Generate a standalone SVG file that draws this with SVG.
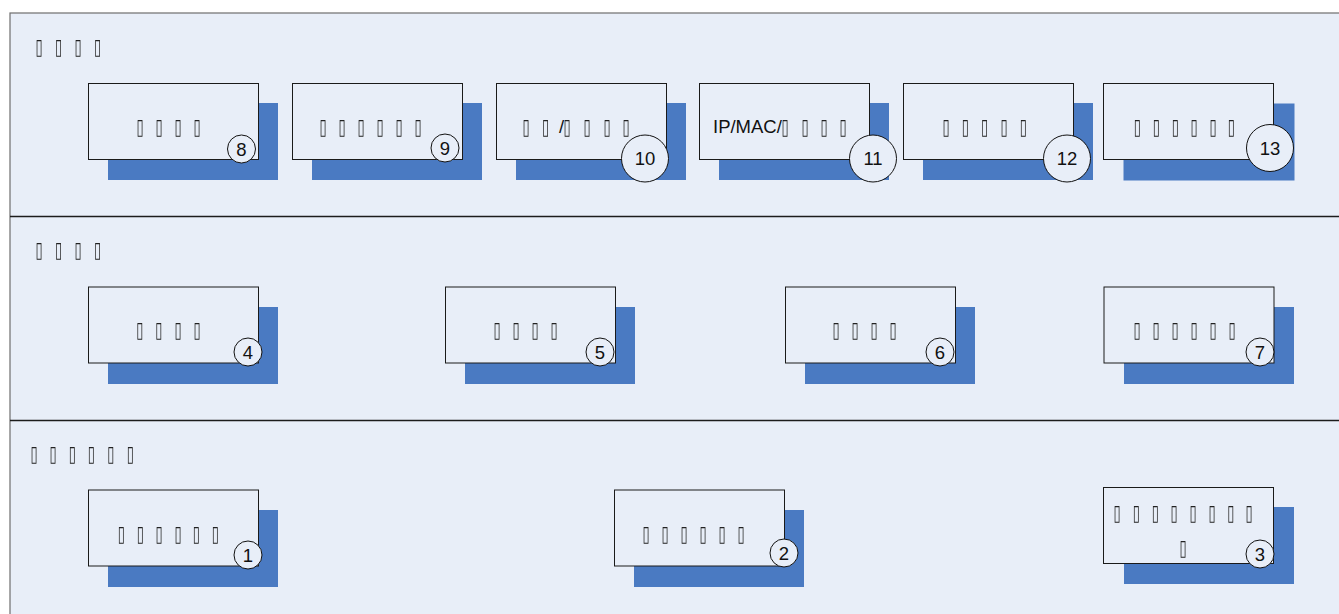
<svg xmlns="http://www.w3.org/2000/svg" width="1339" height="614" viewBox="0 0 1339 614">
  <defs>
    <!-- keep the placeholder glyphs neutral grey -->
    <filter id="mono" x="-20%" y="-30%" width="140%" height="160%">
      <feColorMatrix type="saturate" values="0"/>
    </filter>
  </defs>
  <style>
    .frame { fill: #e8eef8; stroke: #6e6e6e; stroke-width: 1.2; }
    .divider { stroke: #1c1c1c; stroke-width: 1.3; }
    .shadow { fill: #4a7ac2; }
    .box { fill: #e8eef8; stroke: #1a1a1a; stroke-width: 1; }
    .badge { fill: #e8eef8; stroke: #111; stroke-width: 1; }
    /* narrow placeholder glyphs: x positions are given in the squeezed (0.6) space */
    .tofu { font-family: "DejaVu Sans", sans-serif; font-size: 21.5px; fill: #222; filter: url(#mono); transform: scale(0.6, 1); transform-origin: 0 0; }
    .lbl { font-family: "Liberation Sans", Arial, sans-serif; font-size: 18.5px; fill: #111; }
    .num { font-family: "Liberation Sans", Arial, sans-serif; font-size: 18.5px; fill: #111; text-anchor: middle; }
  </style>

  <!-- three stacked bands -->
  <g id="bands">
    <rect class="frame" x="10" y="13" width="1340" height="612"/>
    <line class="divider" x1="10" y1="216.5" x2="1339" y2="216.5"/>
    <line class="divider" x1="10" y1="420.5" x2="1339" y2="420.5"/>
    <text id="band-top-title" class="tofu" x="59.17 91.67 124.17 156.67" y="54">▯▯▯▯</text>
    <text id="band-mid-title" class="tofu" x="59.17 91.67 124.17 156.67" y="257">▯▯▯▯</text>
    <text id="band-bottom-title" class="tofu" x="50.83 82.5 114.67 146.33 178.67 211.33" y="461">▯▯▯▯▯▯</text>
  </g>

  <!-- top band: items 8 to 13 -->
  <g id="node-8">
    <rect class="shadow" x="108" y="103" width="170" height="77"/>
    <rect class="box" x="88.5" y="83.5" width="170" height="76"/>
    <text class="tofu" x="227.5 259.17 290.83 322.5" y="134">▯▯▯▯</text>
    <circle class="badge" cx="241.5" cy="149" r="14"/>
    <text class="num" x="241.5" y="155.7">8</text>
  </g>
  <g id="node-9">
    <rect class="shadow" x="312" y="103" width="170" height="77"/>
    <rect class="box" x="292.5" y="83.5" width="170" height="76"/>
    <text class="tofu" x="532.5 564.17 595.83 627.5 659.17 690.83" y="134">▯▯▯▯▯▯</text>
    <circle class="badge" cx="445" cy="148" r="14"/>
    <text class="num" x="445" y="154.7">9</text>
  </g>
  <g id="node-10">
    <rect class="shadow" x="516" y="103" width="170" height="77"/>
    <rect class="box" x="496.5" y="83.5" width="170" height="76"/>
    <text class="tofu" x="870.83 903.33" y="134">▯▯</text>
    <text class="lbl" x="559" y="133.3">/</text>
    <text class="tofu" x="939.17 972.5 1005.83 1037.5" y="134">▯▯▯▯</text>
    <circle class="badge" cx="645" cy="158.5" r="23.5"/>
    <text class="num" x="645" y="165.3">10</text>
  </g>
  <g id="node-11">
    <rect class="shadow" x="719" y="103" width="170" height="77"/>
    <rect class="box" x="699.5" y="83.5" width="170" height="76"/>
    <text class="lbl" x="713" y="133.3">IP/MAC/</text>
    <text class="tofu" x="1302.5 1335.83 1367.5 1399.17" y="134">▯▯▯▯</text>
    <circle class="badge" cx="873" cy="158.5" r="23.5"/>
    <text class="num" x="873" y="165.3">11</text>
  </g>
  <g id="node-12">
    <rect class="shadow" x="923" y="103" width="170" height="77"/>
    <rect class="box" x="903.5" y="83.5" width="170" height="76"/>
    <text class="tofu" x="1570.83 1603 1635.17 1667.33 1699.5" y="134">▯▯▯▯▯</text>
    <circle class="badge" cx="1067" cy="158.5" r="23.5"/>
    <text class="num" x="1067" y="165.3">12</text>
  </g>
  <g id="node-13">
    <rect class="shadow" x="1123.5" y="103.5" width="171" height="77"/>
    <rect class="box" x="1103.5" y="83.5" width="170" height="76"/>
    <text class="tofu" x="1889.67 1921.33 1953 1984.17 2015.83 2046.33" y="134">▯▯▯▯▯▯</text>
    <circle class="badge" cx="1270" cy="148" r="23.5"/>
    <text class="num" x="1270" y="154.8">13</text>
  </g>

  <!-- middle band: items 4 to 7 -->
  <g id="node-4">
    <rect class="shadow" x="108" y="307" width="170" height="77"/>
    <rect class="box" x="88.5" y="287" width="170" height="76"/>
    <text class="tofu" x="227 258.67 290.83 322.5" y="337">▯▯▯▯</text>
    <circle class="badge" cx="248" cy="352" r="14"/>
    <text class="num" x="248" y="358.7">4</text>
  </g>
  <g id="node-5">
    <rect class="shadow" x="465" y="307" width="170" height="77"/>
    <rect class="box" x="445.5" y="287" width="170" height="76"/>
    <text class="tofu" x="822.5 854.17 885.83 917.5" y="337">▯▯▯▯</text>
    <circle class="badge" cx="600" cy="352" r="14"/>
    <text class="num" x="600" y="358.7">5</text>
  </g>
  <g id="node-6">
    <rect class="shadow" x="805" y="307" width="170" height="77"/>
    <rect class="box" x="785.5" y="287" width="170" height="76"/>
    <text class="tofu" x="1387.5 1419.17 1450.83 1482.5" y="337">▯▯▯▯</text>
    <circle class="badge" cx="940" cy="352" r="14"/>
    <text class="num" x="940" y="358.7">6</text>
  </g>
  <g id="node-7">
    <rect class="shadow" x="1124" y="307" width="170" height="77"/>
    <rect class="box" x="1104" y="287" width="170" height="76"/>
    <text class="tofu" x="1889.17 1920.83 1952.5 1984.17 2015.83 2047.5" y="337">▯▯▯▯▯▯</text>
    <circle class="badge" cx="1260" cy="352" r="14"/>
    <text class="num" x="1260" y="358.7">7</text>
  </g>

  <!-- bottom band: items 1 to 3 -->
  <g id="node-1">
    <rect class="shadow" x="108" y="510" width="170" height="77"/>
    <rect class="box" x="88.5" y="490" width="170" height="76"/>
    <text class="tofu" x="196.33 228 259.17 290.83 321.33 353" y="541">▯▯▯▯▯▯</text>
    <circle class="badge" cx="248" cy="555" r="14"/>
    <text class="num" x="248" y="561.7">1</text>
  </g>
  <g id="node-2">
    <rect class="shadow" x="634" y="510" width="170" height="77"/>
    <rect class="box" x="614.5" y="490" width="170" height="76"/>
    <text class="tofu" x="1070.83 1102.5 1134.17 1165.83 1197.5 1229.17" y="541">▯▯▯▯▯▯</text>
    <circle class="badge" cx="784" cy="553" r="14"/>
    <text class="num" x="784" y="559.7">2</text>
  </g>
  <g id="node-3">
    <rect class="shadow" x="1124" y="507" width="170" height="77"/>
    <rect class="box" x="1103.5" y="487.5" width="170" height="76"/>
    <text class="tofu" x="1855.83 1888 1919.67 1950.83 1982.5 2014.17 2045.33 2075.83" y="520.5">▯▯▯▯▯▯▯▯</text>
    <text class="tofu" x="1965.83" y="555">▯</text>
    <circle class="badge" cx="1260" cy="554" r="14"/>
    <text class="num" x="1260" y="560.7">3</text>
  </g>
</svg>
